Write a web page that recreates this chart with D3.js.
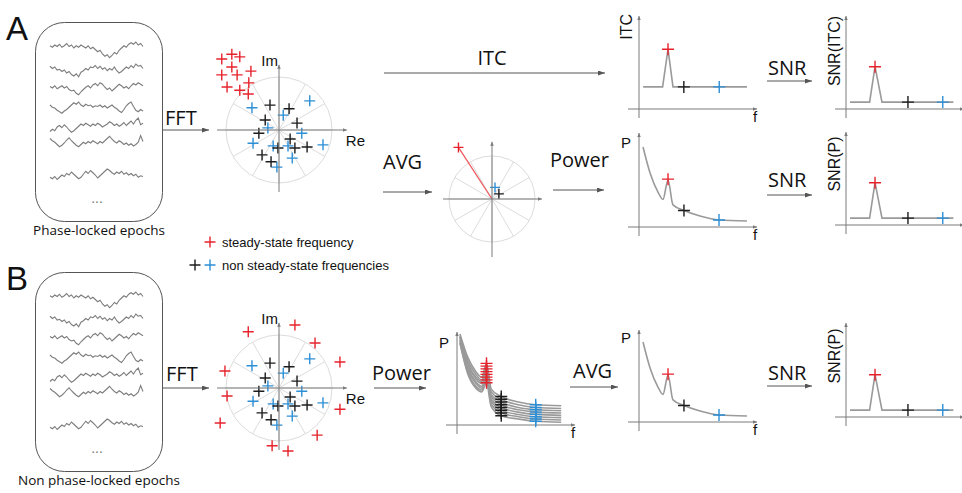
<!DOCTYPE html>
<html>
<head>
<meta charset="utf-8">
<script src="https://cdn.jsdelivr.net/npm/d3@7"></script>
<style>
  body { margin: 0; background: #fff; }
  .hum { font-family: "Open Sans", sans-serif; fill: #111; }
  .helv { font-family: "Liberation Sans", Arial, sans-serif; fill: #111; }
</style>
</head>
<body>
<svg id="svg"></svg>
<script>
// ---- data ----

// phasor positions, in units of the outer ring radius
const lockedRed = [[-1.08, 1.34], [-0.89, 1.43], [-0.74, 1.38], [-0.89, 1.19], [-0.53, 1.11], [-1.08, 1.04],
  [-0.79, 1.04], [-0.98, 0.81], [-0.57, 0.89], [-0.74, 0.75], [-0.58, 0.68]];
const scatteredRed = [[-0.58, 1.06], [0.30, 1.19], [0.68, 0.85], [1.15, 0.49], [-1.02, 0.32], [-0.98, -0.15],
  [1.15, -0.40], [-1.11, -0.66], [0.72, -0.89], [-0.13, -1.09], [0.17, -1.19]];
const noiseBlue = [[-0.51, 0.42], [0.58, 0.55], [0.08, 0.28], [-0.21, 0.04], [0.43, -0.06], [-0.49, -0.25],
  [-0.11, -0.30], [0.17, -0.30], [0.83, -0.28], [0.25, -0.53], [-0.04, -0.70]];
const noiseBlack = [[-0.17, 0.47], [0.19, 0.40], [-0.26, 0.19], [0.34, 0.13], [-0.38, -0.06], [0.21, -0.17],
  [-0.02, -0.34], [0.30, -0.34], [0.53, -0.32], [-0.32, -0.47], [-0.15, -0.60]];
// averaged phasors
const avgRed = [-0.78, 1.20];
const avgBlue = [0.07, 0.27];
const avgBlack = [0.16, 0.12];
const spokeAngles = [0, 30, 60, 90, 120, 150, 180, 210, 240, 270, 300, 330];

// spectra (f and value both 0..1 in each small plot)
const itcF = [0.035, 0.20, 0.246, 0.288, 0.915];
const itcV = [0.24, 0.24, 0.65, 0.24, 0.24];
const itcMarks = [[0.246, 0.65, 'red'], [0.38, 0.24, 'black'], [0.68, 0.24, 'blue']];

const snrF = [0.034, 0.20, 0.246, 0.305, 0.91];
const snrV = [0.075, 0.075, 0.46, 0.075, 0.075];
const snrMarks = [[0.246, 0.46, 'red'], [0.525, 0.075, 'black'], [0.82, 0.075, 'blue']];

const powF = [0.034, 0.093, 0.161, 0.203, 0.246, 0.288, 0.381, 0.517, 0.678, 0.915];
const powV = [0.87, 0.59, 0.38, 0.30, 0.51, 0.24, 0.18, 0.12, 0.076, 0.065];
const powMarks = [[0.246, 0.52, 'red'], [0.381, 0.18, 'black'], [0.678, 0.076, 'blue']];

// single-epoch spectra (panel B)
const epochF = [0.025, 0.09, 0.16, 0.21, 0.25, 0.29, 0.375, 0.52, 0.667, 0.883];
const epochPow = [
  [0.99, 0.74, 0.58, 0.52, 0.67, 0.39, 0.31, 0.25, 0.22, 0.21],
  [0.97, 0.71, 0.55, 0.49, 0.64, 0.36, 0.28, 0.22, 0.19, 0.18],
  [0.96, 0.68, 0.52, 0.47, 0.61, 0.33, 0.25, 0.19, 0.165, 0.155],
  [0.95, 0.66, 0.50, 0.45, 0.58, 0.31, 0.22, 0.165, 0.14, 0.13],
  [0.93, 0.63, 0.47, 0.42, 0.55, 0.28, 0.19, 0.14, 0.115, 0.105],
  [0.92, 0.61, 0.45, 0.40, 0.52, 0.26, 0.16, 0.115, 0.09, 0.08],
  [0.90, 0.58, 0.42, 0.38, 0.49, 0.23, 0.13, 0.09, 0.065, 0.055],
  [0.89, 0.56, 0.40, 0.36, 0.46, 0.20, 0.10, 0.065, 0.04, 0.03]
];
const epochMarkIdx = [[4, 'red'], [6, 'black'], [8, 'blue']];

// EEG-like epochs
const traces = [
  [0.3, 0.1, 0.4, 0.2, 0.5, 0.1, 0.3, 0.6, 0.2, 0.4, 0.0, 0.3, 0.1, 0.4, 0.2, 0.0, 0.3, -0.1, 0.1, -0.2,
   -0.5, -0.3, -0.8, -1.1, -0.9, -1.3, -1.0, -0.6, -0.8, -0.3, 0.0, 0.3, 0.1, 0.5, 0.7, 0.5, 0.8, 0.4, 0.6, 0.2],
  [0.5, 0.2, 0.4, 0.0, 0.1, -0.2, 0.0, -0.4, -0.2, -0.6, -0.8, -0.5, -0.9, -0.3, -0.1, 0.2, 0.0, 0.4, 0.3, 0.6,
   0.2, 0.5, 0.1, 0.3, -0.1, 0.2, 0.0, 0.4, -0.1, -0.4, -0.2, 0.1, 0.4, 0.2, 0.6, 0.3, 0.8, 0.5, 0.6, 0.2],
  [0.2, 0.0, 0.3, -0.1, 0.1, 0.3, 0.0, 0.2, -0.2, -0.4, -0.3, -0.7, -0.9, -0.5, -0.2, 0.1, 0.3, 0.0, 0.4, 0.6,
   0.3, 0.7, 0.5, 0.1, -0.2, 0.0, -0.4, -0.1, 0.2, 0.5, 0.3, 0.0, 0.2, -0.1, 0.3, 0.6, 0.4, 0.7, 0.5, 0.3],
  [0.4, 0.1, 0.0, -0.3, -0.5, -0.7, -0.4, -0.2, 0.1, 0.4, 0.7, 0.5, 0.8, 0.4, 0.2, 0.5, 0.3, 0.4, 0.1, 0.3,
   0.2, 0.4, 0.1, 0.3, 0.0, 0.2, 0.4, 0.1, -0.1, -0.4, -0.6, -0.2, 0.3, 0.6, 0.8, 0.2, -0.3, -0.5, -0.2, -0.4],
  [-0.6, -0.3, -0.5, 0.0, 0.2, -0.1, 0.3, 0.0, -0.4, -0.7, -0.5, -0.2, 0.1, 0.4, 0.2, 0.5, 0.3, 0.1, 0.4, 0.2,
   0.5, 0.3, 0.0, 0.2, 0.4, 0.7, 0.5, 0.2, 0.4, 0.1, 0.3, 0.6, 0.2, 0.5, 0.8, 0.4, 0.9, 1.2, 0.3, 0.5],
  [0.6, 0.3, 0.1, -0.2, -0.5, -0.3, 0.0, 0.4, 0.7, 0.3, 0.0, -0.3, -0.5, -0.2, 0.1, -0.1, 0.2, 0.0, 0.3, 0.1,
   -0.1, 0.2, 0.0, 0.3, 0.6, 0.9, 0.5, 0.2, 0.0, 0.3, 0.1, -0.2, 0.0, -0.3, -0.1, -0.4, -0.2, 0.1, 1.0, 0.2],
  [-0.3, -0.5, -0.2, -0.6, -0.3, 0.0, -0.2, 0.2, 0.0, 0.4, 0.1, -0.2, -0.5, -0.3, 0.1, 0.5, 0.2, 0.6, 0.3, 0.0,
   -0.4, -0.1, 0.2, 0.5, 0.8, 0.6, 0.3, 0.1, 0.4, 0.2, 0.5, 0.1, 0.3, 0.0, 0.2, -0.1, 0.1, -0.3, -0.1, -0.2]
];
const traceRows = [26, 48, 66, 86, 105, 121, 153];   // offsets from box top

const legendItems = [['steady-state frequency', ['red']], ['non steady-state frequencies', ['black', 'blue']]];

// ---- drawing ----
const width = 962, height = 493;
const colors = { red: '#e6232c', blue: '#2d8fd6', black: '#1c1c1c' };
const axisGray = '#7a7a7a';

const svg = d3.select('#svg').attr('width', width).attr('height', height);
const defs = svg.append('defs');

function marker(id, len, wid, color) {
  defs.append('marker')
    .attr('id', id)
    .attr('markerUnits', 'userSpaceOnUse')
    .attr('markerWidth', len).attr('markerHeight', wid)
    .attr('refX', len).attr('refY', wid / 2)
    .attr('orient', 'auto')
    .append('path')
    .attr('d', `M0,0L${len},${wid / 2}L0,${wid}Z`)
    .attr('fill', color);
}
marker('big', 7, 5, '#555');
marker('small', 4, 3.5, axisGray);

function arrow(x1, y1, x2, y2, kind = 'big') {
  svg.append('line')
    .attr('x1', x1).attr('y1', y1).attr('x2', x2).attr('y2', y2)
    .attr('stroke', kind === 'big' ? '#555' : axisGray)
    .attr('stroke-width', 1)
    .attr('marker-end', `url(#${kind})`);
}

function plus(g, x, y, c, s = 5.5) {
  g.append('path')
    .attr('d', `M${x - s},${y}H${x + s}M${x},${y - s}V${y + s}`)
    .attr('stroke', colors[c])
    .attr('stroke-width', 1.4)
    .attr('fill', 'none');
}

function label(txt, x, y, size, cls, anchor = 'start', rotate = false) {
  const t = svg.append('text')
    .attr('class', cls)
    .attr('font-size', size)
    .attr('text-anchor', anchor)
    .text(txt);
  if (rotate) t.attr('transform', `translate(${x},${y}) rotate(-90)`);
  else t.attr('x', x).attr('y', y);
  return t;
}

// epochs box with traces
function epochs(top, caption) {
  const g = svg.append('g');
  g.append('rect')
    .attr('x', 35.5).attr('y', top + 0.5)
    .attr('width', 127).attr('height', 199)
    .attr('rx', 29)
    .attr('fill', 'none').attr('stroke', '#555').attr('stroke-width', 1);
  const x = d3.scaleLinear().domain([0, traces[0].length - 1]).range([50, 143]);
  traces.forEach((tr, i) => {
    const yc = top + traceRows[i];
    const y = d3.scaleLinear().domain([-1, 1]).range([yc + 7.5, yc - 7.5]);
    g.append('path')
      .attr('d', d3.line().x((d, j) => x(j)).y(d => y(d))(tr))
      .attr('fill', 'none').attr('stroke', '#7d7d7d').attr('stroke-width', 1.1);
  });
  label('...', 97, top + 181, 14, 'helv', 'middle').style('fill', '#777');
  label(caption, 99, top + 213, 13.5, 'hum', 'middle');
}

// phasor diagram
function polar(cx, cy, r, ext, groups, showLabels) {
  const x = d3.scaleLinear().domain([-1, 1]).range([cx - r, cx + r]);
  const y = d3.scaleLinear().domain([-1, 1]).range([cy + r, cy - r]);
  const g = svg.append('g');
  g.append('circle')
    .attr('cx', x(0)).attr('cy', y(0)).attr('r', x(1) - x(0))
    .attr('fill', 'none').attr('stroke', '#dcdcdc').attr('stroke-width', 1);
  spokeAngles.forEach(a => {
    const t = a * Math.PI / 180;
    g.append('line')
      .attr('x1', x(0)).attr('y1', y(0))
      .attr('x2', x(Math.cos(t))).attr('y2', y(Math.sin(t)))
      .attr('stroke', '#dcdcdc').attr('stroke-width', 1);
  });
  arrow(x(ext[0]), y(0), x(ext[1]), y(0), 'small');
  arrow(x(0), y(ext[2]), x(0), y(ext[3]), 'small');
  if (showLabels) {
    label('Im', x(0) - 1, y(ext[3]) + 1, 15, 'helv', 'end');
    label('Re', x(ext[1]) - 1, y(0) + 16, 15, 'helv');
  }
  groups.forEach(([pts, c]) => pts.forEach(p => plus(g, x(p[0]), y(p[1]), c, 5.5)));
  return { x, y, g };
}

// small spectrum plot frame
function frame(x0, y0, ytop, xlab) {
  const x = d3.scaleLinear().domain([0, 1]).range([x0, x0 + 118]);
  const y = d3.scaleLinear().domain([0, 1]).range([y0, y0 - 92]);
  arrow(x0 - 11, y0, x0 + 118, y0, 'small');
  arrow(x0, y0 + 9, x0, ytop, 'small');
  if (xlab) label('f', x0 + 116, y0 + 13, 15, 'helv', 'middle');
  return { x, y };
}

function curve(sc, fs, vs, smooth) {
  const pts = fs.map((f, i) => [f, vs[i]]);
  svg.append('path')
    .attr('d', d3.line().x(d => sc.x(d[0])).y(d => sc.y(d[1]))
      .curve(smooth ? d3.curveMonotoneX : d3.curveLinear)(pts))
    .attr('fill', 'none').attr('stroke', '#9a9a9a').attr('stroke-width', 1.6);
}

function marks(sc, list) {
  const g = svg.append('g');
  list.forEach(([f, v, c]) => plus(g, sc.x(f), sc.y(v), c, 6));
}

// ===== panel A =====
label('A', 6, 40, 33, 'helv');
epochs(22, 'Phase-locked epochs');
label('FFT', 165, 125, 20, 'hum');
arrow(162, 130, 209, 130);
polar(279, 130, 53, [-1.17, 1.28, -1.17, 1.23],
  [[noiseBlue, 'blue'], [noiseBlack, 'black'], [lockedRed, 'red']], true);

label('ITC', 492, 65, 20, 'hum', 'middle');
arrow(384, 73, 605, 73);

label('AVG', 383, 169, 20, 'hum');
arrow(383, 192, 432, 192);
const av = polar(492, 199, 43, [-1.14, 1.16, -1.35, 1.33], [], false);
av.g.append('line')
  .attr('x1', av.x(0)).attr('y1', av.y(0))
  .attr('x2', av.x(avgRed[0])).attr('y2', av.y(avgRed[1]))
  .attr('stroke', '#ee5a60').attr('stroke-width', 1.3);
plus(av.g, av.x(avgRed[0]), av.y(avgRed[1]), 'red', 5);
plus(av.g, av.x(avgBlue[0]), av.y(avgBlue[1]), 'blue', 5);
plus(av.g, av.x(avgBlack[0]), av.y(avgBlack[1]), 'black', 5);

label('Power', 550, 167, 20, 'hum');
arrow(553, 190, 604, 190);

// ITC spectrum
const itc = frame(639, 109, 16, true);
label('ITC', 632, 14, 16, 'helv', 'end', true);
curve(itc, itcF, itcV, false);
marks(itc, itcMarks);

label('SNR', 768, 75, 20, 'hum');
arrow(767, 81, 812, 81);
const snrItc = frame(846, 109, 16, false);
label('SNR(ITC)', 840, 51, 16, 'helv', 'middle', true);
curve(snrItc, snrF, snrV, false);
marks(snrItc, snrMarks);

// power spectrum (A)
const powA = frame(639, 227, 133, true);
label('P', 621, 148, 15, 'helv');
curve(powA, powF, powV, true);
marks(powA, powMarks);

label('SNR', 768, 187, 20, 'hum');
arrow(767, 195, 812, 195);
const snrA = frame(846, 225, 132, false);
label('SNR(P)', 840, 164, 16, 'helv', 'middle', true);
curve(snrA, snrF, snrV, false);
marks(snrA, snrMarks);

// legend
legendItems.forEach(([txt, cs], i) => {
  const y = 242 + i * 23;
  const g = svg.append('g');
  cs.forEach((c, j) => plus(g, 210 - (cs.length - 1 - j) * 15, y, c, 5.5));
  label(txt, 222, y + 4.5, 13, 'helv');
});

// ===== panel B =====
label('B', 6, 290, 33, 'helv');
epochs(272, 'Non phase-locked epochs');
label('FFT', 166, 381, 20, 'hum');
arrow(162, 388, 209, 388);
polar(279, 388, 53, [-1.17, 1.28, -1.17, 1.23],
  [[noiseBlue, 'blue'], [noiseBlack, 'black'], [scatteredRed, 'red']], true);

label('Power', 372, 380, 20, 'hum');
arrow(374, 388, 426, 388);

const powEp = frame(457, 425, 332, true);
label('P', 439, 348, 15, 'helv');
epochPow.forEach(vs => curve(powEp, epochF, vs, true));
const epG = svg.append('g');
epochPow.forEach(vs => epochMarkIdx.forEach(([i, c]) => plus(epG, powEp.x(epochF[i]), powEp.y(vs[i]), c, 6)));

label('AVG', 573, 378, 20, 'hum');
arrow(570, 387, 618, 387);
const powB = frame(639, 422, 330, true);
label('P', 621, 343, 15, 'helv');
curve(powB, powF, powV, true);
marks(powB, powMarks);

label('SNR', 768, 380, 20, 'hum');
arrow(767, 386, 812, 386);
const snrB = frame(846, 417, 323, false);
label('SNR(P)', 840, 356, 16, 'helv', 'middle', true);
curve(snrB, snrF, snrV, false);
marks(snrB, snrMarks);
</script>
</body>
</html>
